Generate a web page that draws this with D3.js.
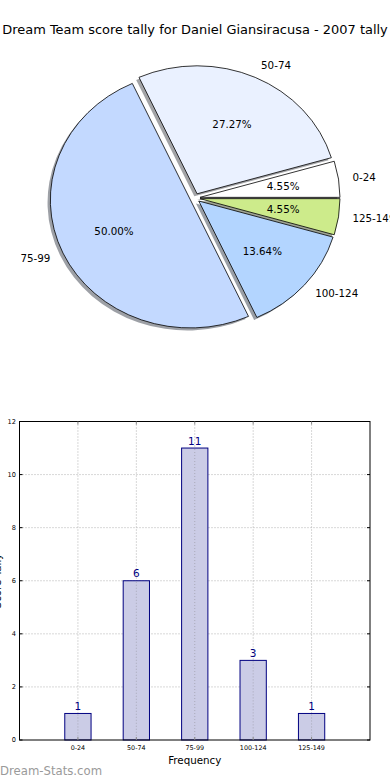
<!DOCTYPE html>
<html>
<head>
<meta charset="utf-8">
<script src="https://cdn.jsdelivr.net/npm/d3@7"></script>
<style>
  html, body { margin: 0; padding: 0; background: #fff; }
  svg { display: block; font-family: "DejaVu Sans", sans-serif; }
</style>
</head>
<body>
<svg id="chart" width="390" height="780"></svg>
<script>
const titleText = "Dream Team score tally for Daniel Giansiracusa - 2007 tally";
const categories = ["0-24", "50-74", "75-99", "100-124", "125-149"];
const counts = [1, 6, 11, 3, 1];
const pieColors = ["#ffffff", "#eaf1ff", "#c3d9ff", "#b3d5ff", "#cdeb8b"];
const yTicks = [0, 2, 4, 6, 8, 10, 12];
const xLabel = "Frequency";
const yLabel = "Score Tally";
const watermark = "Dream-Stats.com";

(function () {
const svg = d3.select("#chart");

// ---------- Title ----------
const title = svg.append("text")
  .attr("x", 195).attr("y", 34)
  .attr("text-anchor", "middle")
  .attr("font-size", 12)
  .attr("fill", "#000")
  .text(titleText);
const tw = title.node().getComputedTextLength();
title.attr("font-size", 12 * 386 / tw);

// ---------- Pie (matplotlib style, elliptical) ----------
const cx = 195, cy = 198, rx = 140, ry = 128;
const explode = 0.036, shadowOff = 0.02;
const total = d3.sum(counts);

const pie = d3.pie().sort(null).value(d => d)
  .startAngle(Math.PI / 2).endAngle(Math.PI / 2 - 2 * Math.PI);
const arcs = pie(counts);
const arcGen = d3.arc().innerRadius(0).outerRadius(1);

const pieG = svg.append("g");
arcs.forEach((a, i) => {
  const mid = (a.startAngle + a.endAngle) / 2;
  const ox = cx + explode * rx * Math.sin(mid) - shadowOff * rx;
  const oy = cy - explode * ry * Math.cos(mid) + shadowOff * ry;
  const c = d3.rgb(pieColors[i]);
  pieG.append("path")
    .attr("d", arcGen(a))
    .attr("transform", `translate(${ox},${oy}) scale(${rx},${ry})`)
    .attr("fill", d3.rgb(c.r * 0.3, c.g * 0.3, c.b * 0.3))
    .attr("fill-opacity", 0.5)
    .attr("stroke", "none");
});
arcs.forEach((a, i) => {
  const mid = (a.startAngle + a.endAngle) / 2;
  const ox = cx + explode * rx * Math.sin(mid);
  const oy = cy - explode * ry * Math.cos(mid);
  pieG.append("path")
    .attr("d", arcGen(a))
    .attr("transform", `translate(${ox},${oy}) scale(${rx},${ry})`)
    .attr("fill", pieColors[i])
    .attr("stroke", "#000")
    .attr("stroke-width", 0.8)
    .attr("vector-effect", "non-scaling-stroke")
    .attr("stroke-linejoin", "miter");
  const sx = Math.sin(mid), sy = -Math.cos(mid);
  pieG.append("text")
    .attr("x", ox + 1.1 * rx * sx)
    .attr("y", oy + 1.1 * ry * sy)
    .attr("dy", "0.35em")
    .attr("text-anchor", sx > 0 ? "start" : "end")
    .attr("font-size", 10.3)
    .attr("fill", "#000")
    .text(categories[i]);
  pieG.append("text")
    .attr("x", ox + 0.6 * rx * sx)
    .attr("y", oy + 0.6 * ry * sy)
    .attr("dy", "0.35em")
    .attr("text-anchor", "middle")
    .attr("font-size", 10.3)
    .attr("fill", "#000")
    .text((counts[i] / total * 100).toFixed(2) + "%");
});

// ---------- Bar chart ----------
const pLeft = 19.5, pRight = 370, pTop = 421.5, pBottom = 740;
const x = d3.scaleLinear().domain([0, categories.length + 1]).range([pLeft, pRight]);
const y = d3.scaleLinear().domain([0, 12]).range([pBottom, pTop]);
const barW = 0.45;

const bg = svg.append("g");

bg.selectAll(".hgrid").data(yTicks.slice(1, -1)).join("line")
  .attr("x1", pLeft).attr("x2", pRight)
  .attr("y1", d => y(d)).attr("y2", d => y(d))
  .attr("stroke", "#b0b0b0").attr("stroke-width", 1)
  .attr("stroke-dasharray", "1,2");
bg.selectAll(".vgrid").data(categories).join("line")
  .attr("x1", (d, i) => x(i + 1)).attr("x2", (d, i) => x(i + 1))
  .attr("y1", pTop).attr("y2", pBottom)
  .attr("stroke", "#b0b0b0").attr("stroke-width", 1)
  .attr("stroke-dasharray", "1,2");

bg.selectAll(".bar").data(counts).join("rect")
  .attr("x", (d, i) => x(i + 1 - barW / 2))
  .attr("y", d => y(d))
  .attr("width", (d, i) => x(i + 1 + barW / 2) - x(i + 1 - barW / 2))
  .attr("height", d => pBottom - y(d))
  .attr("fill", "#cbcce6")
  .attr("stroke", "#000080")
  .attr("stroke-width", 1);

bg.selectAll(".vgrid2").data(counts).join("line")
  .attr("x1", (d, i) => x(i + 1)).attr("x2", (d, i) => x(i + 1))
  .attr("y1", d => y(d) + 1).attr("y2", pBottom)
  .attr("stroke", "#a8a8b8").attr("stroke-width", 1)
  .attr("stroke-dasharray", "1,2");

bg.selectAll(".val").data(counts).join("text")
  .attr("x", (d, i) => x(i + 1))
  .attr("y", d => y(d) - 3.5)
  .attr("text-anchor", "middle")
  .attr("font-size", 10.5)
  .attr("fill", "#000080")
  .text(d => d);

bg.append("rect")
  .attr("x", pLeft).attr("y", pTop)
  .attr("width", pRight - pLeft).attr("height", pBottom - pTop)
  .attr("fill", "none").attr("stroke", "#000").attr("stroke-width", 1);

bg.selectAll(".ytick").data(yTicks).join("line")
  .attr("x1", pLeft).attr("x2", pLeft + 3)
  .attr("y1", d => y(d)).attr("y2", d => y(d))
  .attr("stroke", "#000");
bg.selectAll(".ytickr").data(yTicks).join("line")
  .attr("x1", pRight).attr("x2", pRight - 3)
  .attr("y1", d => y(d)).attr("y2", d => y(d))
  .attr("stroke", "#000");
bg.selectAll(".xtick").data(categories).join("line")
  .attr("x1", (d, i) => x(i + 1)).attr("x2", (d, i) => x(i + 1))
  .attr("y1", pBottom).attr("y2", pBottom - 3)
  .attr("stroke", "#888");
bg.selectAll(".xtickt").data(categories).join("line")
  .attr("x1", (d, i) => x(i + 1)).attr("x2", (d, i) => x(i + 1))
  .attr("y1", pTop).attr("y2", pTop + 3)
  .attr("stroke", "#888");

bg.selectAll(".ylab").data(yTicks).join("text")
  .attr("x", pLeft - 3.5)
  .attr("y", d => y(d))
  .attr("dy", "0.35em")
  .attr("text-anchor", "end")
  .attr("font-size", 6.6)
  .attr("fill", "#000")
  .text(d => d);
bg.selectAll(".xlab").data(categories).join("text")
  .attr("x", (d, i) => x(i + 1))
  .attr("y", pBottom + 8)
  .attr("dy", "0.35em")
  .attr("text-anchor", "middle")
  .attr("font-size", 6.4)
  .attr("fill", "#000")
  .text(d => d);

bg.append("text")
  .attr("x", (pLeft + pRight) / 2).attr("y", 764)
  .attr("text-anchor", "middle")
  .attr("font-size", 10.3)
  .attr("fill", "#000")
  .text(xLabel);
bg.append("text")
  .attr("transform", "translate(0.5,581) rotate(-90)")
  .attr("text-anchor", "middle")
  .attr("font-size", 10.3)
  .attr("fill", "#000")
  .text(yLabel);

svg.append("text")
  .attr("x", 0).attr("y", 775)
  .attr("font-size", 11.7)
  .attr("fill", "#9a9a9a")
  .text(watermark);
})();
</script>
</body>
</html>
